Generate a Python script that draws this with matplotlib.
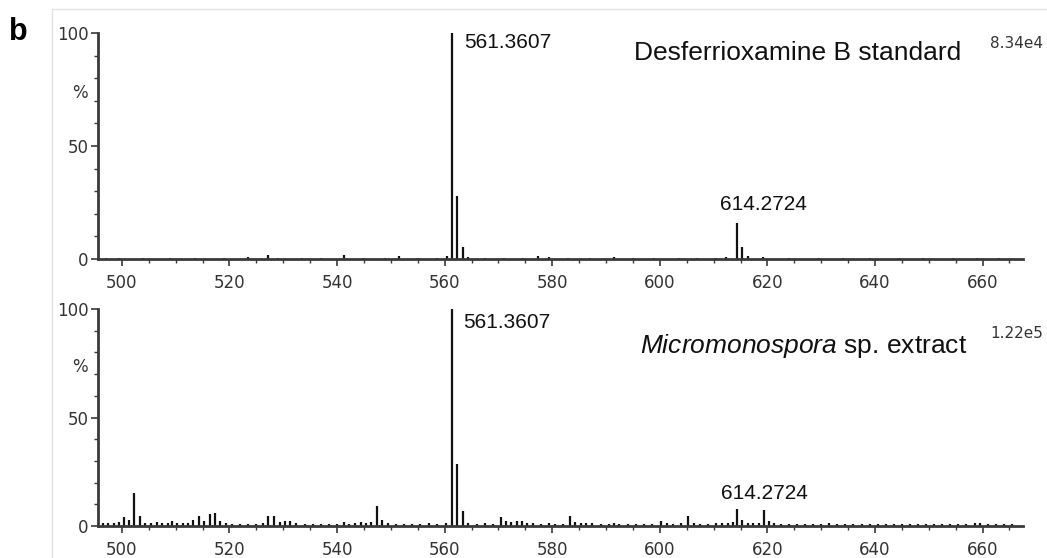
import matplotlib
matplotlib.use("Agg")
import matplotlib.pyplot as plt
from matplotlib.lines import Line2D
from matplotlib.ticker import MultipleLocator

plt.rcParams["mathtext.fontset"] = "custom"
plt.rcParams["mathtext.it"] = "Liberation Sans:italic"
plt.rcParams["mathtext.rm"] = "Liberation Sans"

# stick spectra (m/z, relative intensity %)
std_mz = [497.0, 499.5, 504.0, 509.0, 513.5, 519.0, 523.5, 527.1, 529.0, 533.5,
          537.0, 541.2, 545.0, 549.0, 551.5, 555.0, 558.5, 560.5, 561.36, 562.36,
          563.37, 564.4, 567.5, 571.0, 574.5, 577.4, 579.4, 583.0, 587.0, 591.5,
          595.0, 599.0, 603.5, 607.0, 610.5, 612.3, 614.27, 615.28, 616.3, 619.2,
          624.0, 629.5, 634.0, 639.0, 644.5, 649.0, 654.5, 659.0, 663.0]
std_int = [0.6, 0.6, 0.6, 0.6, 0.6, 0.6, 0.8, 2.0, 0.6, 0.6,
           0.6, 1.8, 0.6, 0.6, 1.5, 0.6, 0.6, 1.2, 100.0, 28.0,
           5.5, 1.0, 0.6, 0.6, 0.6, 1.5, 1.0, 0.6, 0.6, 0.9,
           0.6, 0.6, 0.6, 0.6, 0.6, 1.0, 16.0, 5.3, 1.5, 0.8,
           0.6, 0.6, 0.6, 0.6, 0.6, 0.6, 0.6, 0.6, 0.6]

ext_mz = [496.5, 497.5, 498.5, 499.5, 500.3, 501.3, 502.3, 503.3, 504.3, 505.5,
          506.5, 507.5, 508.5, 509.3, 510.3, 511.3, 512.3, 513.3, 514.3, 515.3,
          516.3, 517.3, 518.3, 519.3, 520.5, 522.0, 523.5, 525.0, 526.3, 527.2,
          528.2, 529.3, 530.3, 531.3, 532.3, 534.0, 535.5, 537.0, 538.5, 540.0,
          541.2, 542.3, 543.4, 544.4, 545.4, 546.4, 547.4, 548.4, 549.4, 551.0,
          552.5, 554.0, 555.5, 557.0, 558.5, 560.3, 561.36, 562.36, 563.37, 564.4,
          566.0, 567.5, 569.0, 570.4, 571.4, 572.4, 573.4, 574.4, 575.4, 576.5,
          578.0, 579.4, 580.5, 582.0, 583.3, 584.3, 585.3, 586.3, 587.3, 589.0,
          590.5, 591.5, 592.5, 594.0, 595.5, 597.0, 598.5, 600.3, 601.3, 602.5,
          604.0, 605.3, 606.3, 607.5, 609.0, 610.5, 611.5, 612.6, 613.6, 614.3,
          615.3, 616.3, 617.3, 618.5, 619.3, 620.3, 621.3, 622.5, 624.0, 625.5,
          627.0, 628.5, 630.0, 631.4, 633.0, 634.5, 636.0, 637.5, 639.0, 640.5,
          642.0, 643.5, 645.0, 646.5, 648.0, 649.5, 651.0, 652.5, 654.0, 655.5,
          657.0, 658.5, 659.5, 661.0, 662.5, 664.0, 665.5]
ext_int = [1.5, 1.5, 1.5, 1.8, 4.3, 2.8, 15.0, 4.6, 1.2, 1.5,
           2.0, 1.5, 1.5, 2.5, 1.3, 1.5, 1.5, 3.0, 4.5, 2.5,
           5.5, 6.0, 2.5, 1.2, 1.0, 1.0, 1.0, 1.0, 1.2, 4.8,
           4.5, 2.0, 2.5, 2.5, 1.2, 1.0, 1.0, 1.0, 1.0, 1.0,
           1.8, 1.0, 1.5, 2.0, 1.2, 2.0, 9.2, 3.0, 1.2, 1.0,
           1.0, 1.0, 1.0, 1.2, 1.0, 1.5, 100.0, 28.6, 6.9, 1.5,
           1.0, 1.2, 1.0, 4.0, 2.5, 2.0, 2.5, 2.5, 1.5, 1.2,
           1.0, 1.2, 1.0, 1.0, 4.8, 2.0, 1.5, 1.5, 1.5, 1.0,
           1.0, 1.2, 1.0, 1.0, 1.0, 1.0, 1.0, 2.5, 1.2, 1.0,
           1.2, 4.7, 1.5, 1.0, 1.0, 1.2, 1.2, 1.5, 2.0, 7.7,
           3.0, 1.5, 1.2, 1.5, 7.4, 2.5, 1.2, 1.0, 1.0, 1.0,
           1.0, 1.0, 1.0, 1.2, 1.0, 1.0, 1.0, 1.0, 1.0, 1.0,
           1.0, 1.0, 1.0, 1.0, 1.0, 1.0, 1.0, 1.0, 1.0, 1.0,
           1.0, 1.5, 1.2, 1.0, 1.0, 1.0, 1.0]

x_ticks = [500, 520, 540, 560, 580, 600, 620, 640, 660]
y_ticks = [0, 50, 100]

fig = plt.figure(figsize=(10.47, 5.58), dpi=100)
ax1 = fig.add_axes([0.0933, 0.5358, 0.8837, 0.4051])
ax2 = fig.add_axes([0.0933, 0.0573, 0.8837, 0.3889])

# light frame round the panel
fig.add_artist(Line2D([0.0497, 1.0], [0.983, 0.983], color="#e2e2e2", lw=1))
fig.add_artist(Line2D([0.0497, 0.0497], [0.0, 0.983], color="#e2e2e2", lw=1))

spine_c = "#3a3a3a"
for ax, mz, inten in [(ax1, std_mz, std_int), (ax2, ext_mz, ext_int)]:
    ax.vlines(mz, 0, inten, color="#111111", lw=1.6)
    ax.set_xlim(495.5, 667.5)
    ax.set_ylim(0, 100)
    ax.set_xticks(x_ticks)
    ax.set_yticks(y_ticks)
    ax.xaxis.set_minor_locator(MultipleLocator(5))
    ax.yaxis.set_minor_locator(MultipleLocator(10))
    for s in ["top", "right"]:
        ax.spines[s].set_visible(False)
    for s in ["left", "bottom"]:
        ax.spines[s].set_color(spine_c)
        ax.spines[s].set_linewidth(2.0)
    ax.tick_params(which="major", length=5, width=1.2, color=spine_c,
                   labelsize=12, labelcolor="#333333")
    ax.tick_params(axis="y", which="major", pad=1.5)
    ax.tick_params(axis="x", which="major", pad=6)
    ax.tick_params(which="minor", length=3, width=1.0, color=spine_c)
    ax.patch.set_alpha(0)
    ax.text(-0.019, 0.735, "%", transform=ax.transAxes, ha="center", va="center",
            fontsize=12, color="#333333")

lab = dict(family="Liberation Sans", color="#111111")
ax1.text(563.7, 96, "561.3607", fontsize=15, va="center", **lab)
ax1.text(619.3, 23.9, "614.2724", fontsize=15, ha="center", va="center", **lab)
ax1.text(656.1, 91, "Desferrioxamine B standard", fontsize=19, ha="right",
         va="center", **lab)
fig.text(0.996, 0.922, "8.34e4", fontsize=11, ha="right", va="center",
         color="#333333")

ax2.text(563.4, 94, "561.3607", fontsize=15, va="center", **lab)
ax2.text(619.5, 15.2, "614.2724", fontsize=15, ha="center", va="center", **lab)
ax2.text(657.1, 83, r"$\mathit{Micromonospora}$ sp. extract", fontsize=19,
         ha="right", va="center", **lab)
fig.text(0.996, 0.403, "1.22e5", fontsize=11, ha="right", va="center",
         color="#333333")

fig.text(0.009, 0.9435, "b", fontsize=22, fontweight="bold",
         family="Liberation Sans", va="center")

fig.savefig("out.png", dpi=100)
